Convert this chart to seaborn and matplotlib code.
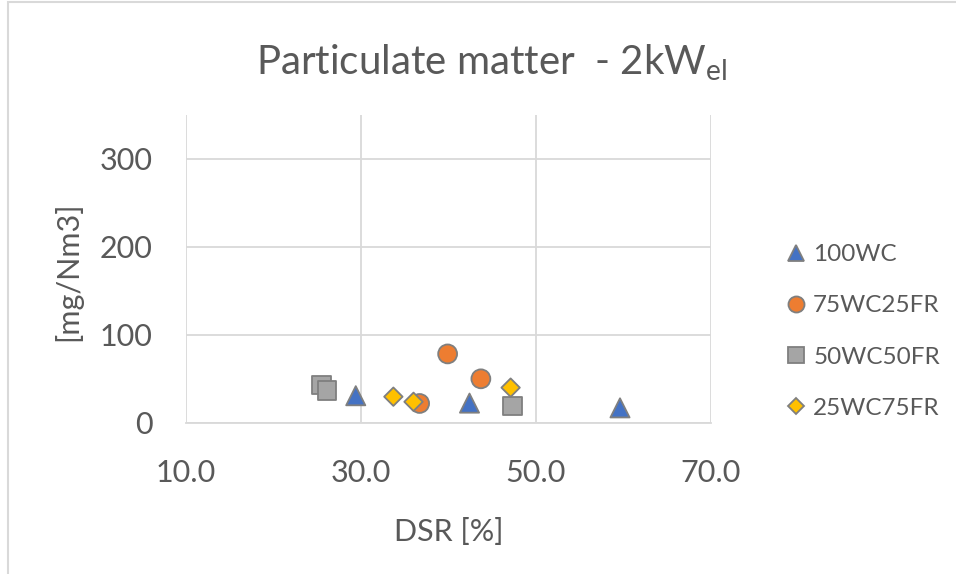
import numpy as np
import pandas as pd
import seaborn as sns
import matplotlib
matplotlib.use("Agg")
import matplotlib.pyplot as plt
from matplotlib.patches import Rectangle

# ---- data ----
series_names = ["100WC", "75WC25FR", "50WC50FR", "25WC75FR"]
dsr_100wc = [29.4, 42.4, 59.6]
pm_100wc = [31.0, 22.6, 17.2]
dsr_75wc25fr = [39.9, 43.7, 36.7]
pm_75wc25fr = [78.5, 50.2, 22.2]
dsr_50wc50fr = [25.5, 26.1, 47.3]
pm_50wc50fr = [43.3, 36.8, 19.2]
dsr_25wc75fr = [33.7, 36.0, 47.1]
pm_25wc75fr = [29.9, 24.1, 40.2]
x_ticks = [10.0, 30.0, 50.0, 70.0]
y_ticks = [0, 100, 200, 300]

rows = []
for name, xs, ys in zip(series_names,
                        [dsr_100wc, dsr_75wc25fr, dsr_50wc50fr, dsr_25wc75fr],
                        [pm_100wc, pm_75wc25fr, pm_50wc50fr, pm_25wc75fr]):
    for x, y in zip(xs, ys):
        rows.append({"DSR": x, "PM": y, "Series": name})
df = pd.DataFrame(rows)

sns.set_theme(style="white")
plt.rcParams["font.family"] = ["Lato", "DejaVu Sans"]
plt.rcParams["mathtext.default"] = "regular"
plt.rcParams["mathtext.fontset"] = "custom"
plt.rcParams["mathtext.rm"] = "Lato"

text_color = "#595959"
palette = {"100WC": "#4472C4", "75WC25FR": "#ED7D31", "50WC50FR": "#A5A5A5", "25WC75FR": "#FFC000"}
markers = {"100WC": "^", "75WC25FR": "o", "50WC50FR": "s", "25WC75FR": "D"}
sizes = {"100WC": 190, "75WC25FR": 185, "50WC50FR": 180, "25WC75FR": 88}

fig = plt.figure(figsize=(9.56, 5.74), dpi=100)
ax = fig.add_axes([186/956, 1-423/574, (711-186)/956, (423-115)/574])

sns.scatterplot(data=df, x="DSR", y="PM", hue="Series", style="Series", size="Series",
                palette=palette, markers=markers, sizes=sizes, hue_order=series_names,
                style_order=series_names, size_order=series_names, edgecolor="#7F7F7F",
                linewidth=1.3, ax=ax, legend=True, zorder=3)

ax.set_xlim(10, 70)
ax.set_ylim(0, 350)
ax.set_xticks(x_ticks)
ax.set_xticklabels([f"{v:.1f}" for v in x_ticks])
ax.set_yticks(y_ticks)
ax.set_yticklabels([str(v) for v in y_ticks])
ax.grid(True, color="#D9D9D9", linewidth=1.3)
ax.set_axisbelow(True)
for s in ["top", "right", "left"]:
    ax.spines[s].set_visible(False)
ax.spines["bottom"].set_color("#D9D9D9")
ax.spines["bottom"].set_linewidth(1.3)
ax.tick_params(axis="both", length=0, labelsize=22, labelcolor=text_color)
ax.tick_params(axis="x", pad=26)
ax.tick_params(axis="y", pad=24)
ax.set_xlabel("DSR [%]", fontsize=22, color=text_color)
ax.set_ylabel("[mg/Nm3]", fontsize=22, color=text_color)
ax.xaxis.label.set_va("center")
ax.yaxis.label.set_va("center")
ax.xaxis.set_label_coords((449-186)/525, (423-532)/308)
ax.yaxis.set_label_coords((68-186)/525, (423-271)/308)

fig.text(492/956, 1-63/574, r"Particulate matter  - 2kW$_{el}$", ha="center", va="center",
         fontsize=29, color=text_color)

handles, labels = ax.get_legend_handles_labels()
leg = ax.legend(handles, labels, loc="center left", bbox_to_anchor=((784-186)/525, 0.297),
                frameon=False, fontsize=17.5, labelcolor=text_color,
                borderaxespad=0, borderpad=0,
                handletextpad=0.2, labelspacing=1.24, markerscale=0.85,
                handlelength=1.0)

fig.patches.append(Rectangle((8/956, -0.1), 1.2, 1 - 2/574 + 0.1, transform=fig.transFigure,
                             fill=False, edgecolor="#D9D9D9", linewidth=1.5))

fig.savefig("out.png", dpi=100)
